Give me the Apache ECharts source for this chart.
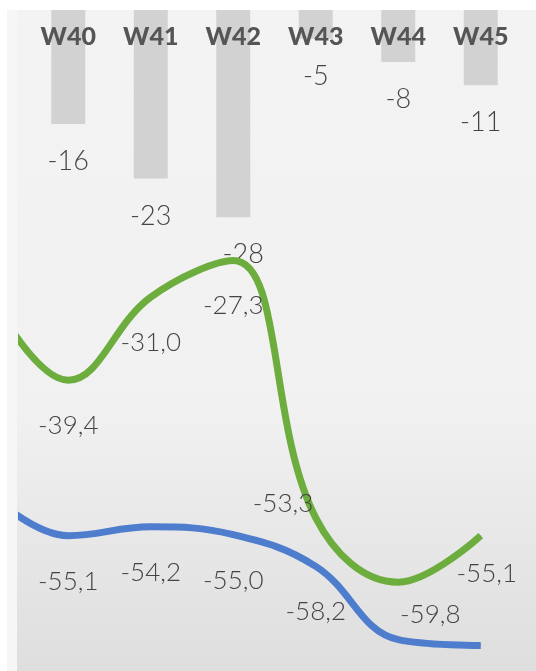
<!DOCTYPE html>
<html>
<head>
<meta charset="utf-8">
<script src="https://cdn.jsdelivr.net/npm/echarts@6/dist/echarts.min.js"></script>
<style>
  html, body { margin: 0; padding: 0; background: #ffffff; }
  #chart { width: 536px; height: 671px; }
</style>
</head>
<body>
<div id="chart"></div>
<script>
// ---- data ----
const weeks = ['W40', 'W41', 'W42', 'W43', 'W44', 'W45'];
const barValues = [-16, -23, -28, -5, -8, -11];
const greenValues = [-39.4, -31.0, -27.3, -53.3, -59.8, -55.1];
const blueValues = [-55.1, -54.2, -55.0, -58.2, -65.6, -66.2];
// preceding week (W39), only its lead-in segment is visible at the left edge
const greenLead = -30.0;
const blueLead = -50.5;
// which line labels are visible
const greenLabelShown = [true, true, true, true, true, true];
const blueLabelShown = [true, true, true, true, false, false];

// ---- layout / style ----
const W = 536, H = 671;
const PLOT_LEFT = 27, PLOT_RIGHT = 14, CLIP_LEFT = 22, TOP = 10;
const band = (W - PLOT_LEFT - PLOT_RIGHT) / weeks.length;
const lineXMin = -0.5 - (PLOT_LEFT - CLIP_LEFT) / band;
const LINE_PX = 9.9, LINE_MIN = -68.7, LINE_MAX = -2;
const BAR_PX = 7.76, BAR_MIN = -85, BAR_MAX = -1.3;

const numFont = 'Lato';
const labelColor = '#444444';
const fmt = v => v.toFixed(1).replace('.', ',');

const greenLabelTweaks = {
  3: { position: 'left', distance: 2, offset: [0, -14] },
  4: { offset: [32, -13] },
  5: { offset: [6, -8] }
};
const barLabelTweaks = { 2: { offset: [10, 0] } };

function lineData(lead, values, shown, tweaks) {
  const d = [{ value: [-1, lead], label: { show: false } }];
  values.forEach((v, i) => {
    const lab = Object.assign({ show: shown[i] }, (tweaks || {})[i] || {});
    d.push({ value: [i, v], label: lab });
  });
  return d;
}

const lineLabel = {
  show: true, position: 'bottom', distance: 32,
  fontFamily: numFont, fontWeight: 300, fontSize: 26, color: labelColor,
  formatter: p => fmt(p.value[1])
};

const chart = echarts.init(document.getElementById('chart'), null, { renderer: 'canvas' });
chart.setOption({
  animation: false,
  graphic: [
    { type: 'rect', z: -10, silent: true, shape: { x: 7, y: TOP, width: 10, height: H - TOP }, style: { fill: '#f6f6f6' } },
    { type: 'rect', z: -10, silent: true, shape: { x: 17, y: TOP, width: W - 17, height: H - TOP },
      style: { fill: new echarts.graphic.LinearGradient(0, 0, 0, 1, [
        { offset: 0, color: '#f3f3f3' },
        { offset: 0.6, color: '#f1f1f1' },
        { offset: 1, color: '#dedede' }
      ]) } }
  ],
  grid: [
    { left: CLIP_LEFT, right: PLOT_RIGHT, top: TOP, height: (LINE_MAX - LINE_MIN) * LINE_PX },
    { left: PLOT_LEFT, right: PLOT_RIGHT, top: TOP, height: (BAR_MAX - BAR_MIN) * BAR_PX }
  ],
  xAxis: [
    { type: 'value', gridIndex: 0, min: lineXMin, max: weeks.length - 0.5, show: false },
    { type: 'category', gridIndex: 1, data: weeks, position: 'top', z: 10,
      axisLine: { show: false }, axisTick: { show: false }, splitLine: { show: false },
      axisLabel: { inside: true, margin: 14, fontFamily: 'Lato', fontWeight: 900, fontSize: 25, color: '#555555' } }
  ],
  yAxis: [
    { type: 'value', gridIndex: 0, min: LINE_MIN, max: LINE_MAX, show: false },
    { type: 'value', gridIndex: 1, min: BAR_MIN, max: BAR_MAX, show: false }
  ],
  series: [
    { type: 'bar', xAxisIndex: 1, yAxisIndex: 1, barWidth: 34, z: 2,
      itemStyle: { color: '#d2d2d2' },
      data: barValues.map((v, i) => ({ value: v, label: barLabelTweaks[i] || {} })),
      label: { show: true, position: 'bottom', distance: 24, fontFamily: numFont, fontWeight: 300,
        fontSize: 27, color: labelColor, formatter: p => String(p.value) } },
    { type: 'line', xAxisIndex: 0, yAxisIndex: 0, smooth: 0.4, showSymbol: true, symbol: 'circle', symbolSize: 1, z: 3,
      lineStyle: { color: '#4f7dcd', width: 7 }, itemStyle: { color: '#4f7dcd' },
      data: lineData(blueLead, blueValues, blueLabelShown), label: lineLabel },
    { type: 'line', xAxisIndex: 0, yAxisIndex: 0, smooth: 0.4, showSymbol: true, symbol: 'circle', symbolSize: 1, z: 4,
      lineStyle: { color: '#6cad3e', width: 7 }, itemStyle: { color: '#6cad3e' },
      data: lineData(greenLead, greenValues, greenLabelShown, greenLabelTweaks), label: lineLabel }
  ]
});
</script>
</body>
</html>
